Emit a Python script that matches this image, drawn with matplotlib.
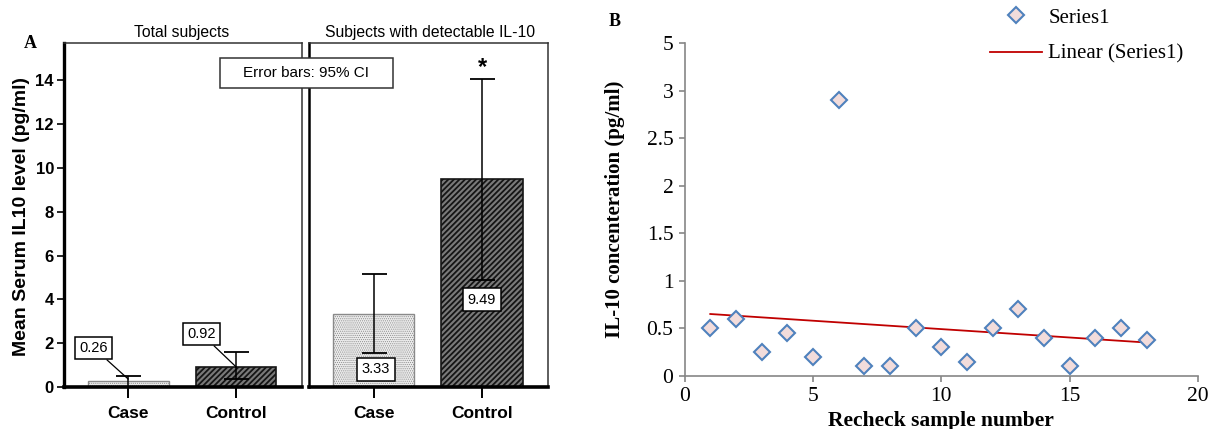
import numpy as np
import matplotlib
matplotlib.use("Agg")
import matplotlib.pyplot as plt
from matplotlib.patches import Rectangle

# ---------------- Panel A data ----------------
panel_titles = ["Total subjects", "Subjects with detectable IL-10"]
categories = ["Case", "Control"]
total_means = [0.26, 0.92]
total_ci_low = [0.02, 0.35]
total_ci_high = [0.50, 1.60]
detect_means = [3.33, 9.49]
detect_ci_low = [1.55, 4.90]
detect_ci_high = [5.17, 14.05]
a_yticks = [0, 2, 4, 6, 8, 10, 12, 14]

# ---------------- Panel B data ----------------
sample_number = list(range(1, 19))
il10_conc = [0.50, 0.60, 0.25, 0.45, 0.20, 2.90, 0.10, 0.10, 0.50,
             0.30, 0.15, 0.50, 0.70, 0.40, 0.10, 0.40, 0.50, 0.38]
b_xticks = [0, 5, 10, 15, 20]
b_yticks = [0, 0.5, 1, 1.5, 2, 2.5, 3, 3.5]
b_yticklabels = ["0", "0.5", "1", "1.5", "2", "2.5", "3", "5"]

W, H = 1211, 429
fig = plt.figure(figsize=(W / 100, H / 100), dpi=100)
fig.patch.set_facecolor("white")


def rect(x0, y0, x1, y1):
    return [x0 / W, 1 - y1 / H, (x1 - x0) / W, (y1 - y0) / H]


SANS = "Liberation Sans"
SERIF = "Liberation Serif"

axL = fig.add_axes(rect(63.6, 43, 301.8, 387))
axR = fig.add_axes(rect(309, 43, 548, 387))

xpos = np.arange(len(categories))
bar_w = 0.75


def draw_panel(ax, means, lo, hi, show_y):
    # Case bar: light stipple
    with plt.rc_context({"hatch.linewidth": 0.5}):
        ax.bar(xpos[0], means[0], width=bar_w, color="#ececec",
               edgecolor="#8a8a8a", hatch="........", linewidth=1.0,
               zorder=2)
    # Control bar: dark diagonal hatch
    with plt.rc_context({"hatch.linewidth": 1.3}):
        ax.bar(xpos[1], means[1], width=bar_w, color="#7a7a7a",
               edgecolor="#151515", hatch="//////", linewidth=1.2, zorder=2)
    m = np.array(means)
    yerr = [m - np.array(lo), np.array(hi) - m]
    ax.errorbar(xpos, m, yerr=yerr, fmt="none", ecolor="black",
                elinewidth=1.1, capsize=9, capthick=1.3, zorder=4)
    ax.set_xlim(-0.6, 1.61)
    ax.set_ylim(0, 15.7)
    ax.set_xticks(xpos)
    ax.set_xticklabels(categories, fontfamily=SANS, fontweight="bold",
                       fontsize=12.5)
    ax.tick_params(axis="x", length=8, width=1.4, direction="out", pad=6)
    for s in ["top", "right"]:
        ax.spines[s].set_linewidth(1.1)
        ax.spines[s].set_color("#333333")
    ax.spines["bottom"].set_linewidth(2.6)
    ax.spines["left"].set_linewidth(2.4 if show_y else 1.8)
    if show_y:
        ax.set_yticks(a_yticks)
        ax.set_yticklabels([str(t) for t in a_yticks], fontfamily=SANS,
                           fontweight="bold", fontsize=12)
        ax.tick_params(axis="y", length=5, width=1.2, direction="out", pad=2)
    else:
        ax.set_yticks([])


draw_panel(axL, total_means, total_ci_low, total_ci_high, True)
draw_panel(axR, detect_means, detect_ci_low, detect_ci_high, False)

axL.set_ylabel("Mean Serum IL10 level (pg/ml)", fontfamily=SANS,
               fontweight="bold", fontsize=14, va="center")
axL.yaxis.set_label_coords(-0.175, 0.497)

box = dict(boxstyle="square,pad=0.3", facecolor="white", edgecolor="black",
           linewidth=1.1)
lbl_kw = dict(fontfamily=SANS, fontsize=10.5, ha="center", va="center",
              bbox=box, zorder=6)
axL.annotate(f"{total_means[0]:.2f}", xy=(0.0, total_means[0] + 0.1),
             xytext=(-0.32, 1.78),
             arrowprops=dict(arrowstyle="-", lw=0.9, color="black",
                             shrinkA=0, shrinkB=0), **lbl_kw)
axL.annotate(f"{total_means[1]:.2f}", xy=(1.0, total_means[1]),
             xytext=(0.68, 2.42),
             arrowprops=dict(arrowstyle="-", lw=0.9, color="black",
                             shrinkA=0, shrinkB=0), **lbl_kw)
axR.text(0.02, 0.8, f"{detect_means[0]:.2f}", **lbl_kw)
axR.text(1.0, 3.98, f"{detect_means[1]:.2f}", **lbl_kw)
axR.text(1.0, 14.6, "*", fontfamily=SANS, fontweight="bold", fontsize=17,
         ha="center", va="center")

fig.text(182 / W, 1 - 33 / H, panel_titles[0], fontfamily=SANS,
         fontsize=11.3, ha="center", va="center")
fig.text(430 / W, 1 - 33 / H, panel_titles[1], fontfamily=SANS,
         fontsize=11.3, ha="center", va="center")
fig.text(30 / W, 1 - 43 / H, "A", fontfamily=SERIF, fontweight="bold",
         fontsize=13, ha="center", va="center")

fig.add_artist(Rectangle((220 / W, 1 - 88 / H), 173 / W, 30 / H,
                         transform=fig.transFigure, facecolor="white",
                         edgecolor="#333333", linewidth=1.1, zorder=10))
fig.text(306 / W, 1 - 73 / H, "Error bars: 95% CI", fontfamily=SANS,
         fontsize=11, ha="center", va="center", zorder=11)

# ---------------- Panel B ----------------
axB = fig.add_axes(rect(684.6, 43, 1198, 376))
pts, = axB.plot(sample_number, il10_conc, linestyle="none", marker="D",
                markersize=8.5, markerfacecolor="#f2dcdb",
                markeredgecolor="#4f81bd", markeredgewidth=1.5,
                label="Series1", zorder=3)
coef = np.polyfit(sample_number, il10_conc, 1)
xs = np.array([sample_number[0], sample_number[-1]])
trend, = axB.plot(xs, np.polyval(coef, xs), color="#c00000", linewidth=1.3,
                  label="Linear (Series1)", zorder=2)
axB.set_xlim(0, 20)
axB.set_ylim(0, 3.5)
axB.set_xticks(b_xticks)
axB.set_xticklabels([str(t) for t in b_xticks], fontfamily=SERIF,
                    fontsize=15.5)
axB.set_yticks(b_yticks)
axB.set_yticklabels(b_yticklabels, fontfamily=SERIF, fontsize=15.5)
for s in ["top", "right"]:
    axB.spines[s].set_visible(False)
for s in ["left", "bottom"]:
    axB.spines[s].set_color("#868686")
    axB.spines[s].set_linewidth(1.2)
axB.tick_params(length=4, width=1.2, color="#868686", direction="out",
                pad=4)
axB.set_ylabel("IL-10 concenteration (pg/ml)", fontfamily=SERIF,
               fontweight="bold", fontsize=15, va="center")
axB.yaxis.set_label_coords(-0.1356, 0.5)
axB.set_xlabel("Recheck sample number", fontfamily=SERIF,
               fontweight="bold", fontsize=15.5, va="center")
axB.xaxis.set_label_coords(0.5, -0.135)

fig.legend(handles=[pts, trend], labels=["Series1", "Linear (Series1)"],
           loc="upper left", bbox_to_anchor=(990 / W, 1 - 8 / H),
           frameon=False, prop={"family": SERIF, "size": 15},
           numpoints=1, handlelength=2.5, handletextpad=0.3,
           labelspacing=0.8, borderaxespad=0, borderpad=0)

fig.text(615 / W, 1 - 22 / H, "B", fontfamily=SERIF, fontweight="bold",
         fontsize=13, ha="center", va="center")

fig.savefig("out.png", dpi=100, facecolor="white")
